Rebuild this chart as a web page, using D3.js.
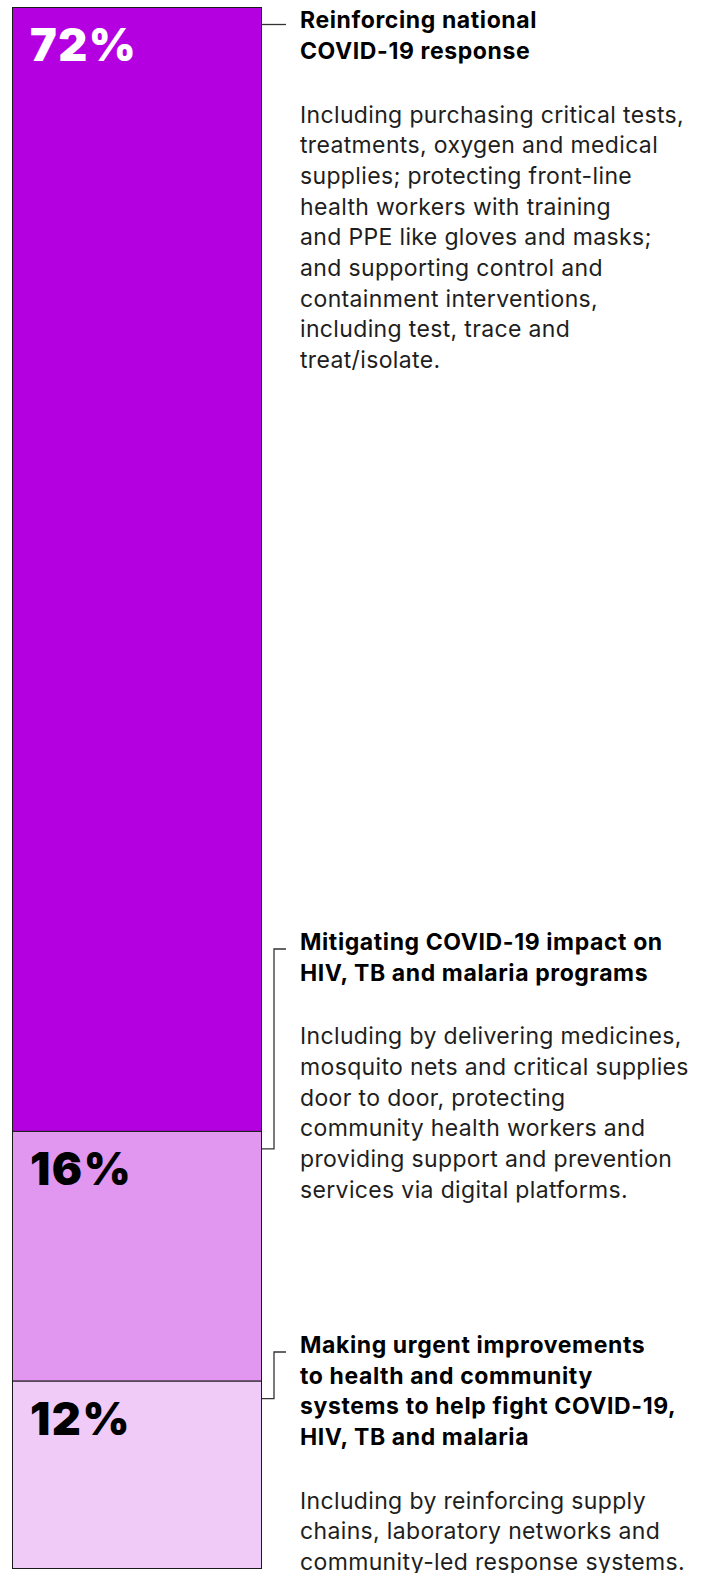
<!DOCTYPE html>
<html>
<head>
<meta charset="utf-8">
<script src="https://cdn.jsdelivr.net/npm/d3@7"></script>
<style>
  html, body { margin: 0; padding: 0; background: #fff; }
  svg { display: block; }
</style>
</head>
<body>
<div id="chart"></div>
<script>
// ---- data ----
const categories = [
  "Reinforcing national COVID-19 response",
  "Mitigating COVID-19 impact on HIV, TB and malaria programs",
  "Making urgent improvements to health and community systems to help fight COVID-19, HIV, TB and malaria"
];
const shares = [72, 16, 12];
const shareLabels = ["72%", "16%", "12%"];
const headingLines = [
  ["Reinforcing national", "COVID-19 response"],
  ["Mitigating COVID-19 impact on", "HIV, TB and malaria programs"],
  ["Making urgent improvements", "to health and community", "systems to help fight COVID-19,", "HIV, TB and malaria"]
];
const bodyLines = [
  ["Including purchasing critical tests,", "treatments, oxygen and medical", "supplies; protecting front-line",
   "health workers with training", "and PPE like gloves and masks;", "and supporting control and",
   "containment interventions,", "including test, trace and", "treat/isolate."],
  ["Including by delivering medicines,", "mosquito nets and critical supplies", "door to door, protecting",
   "community health workers and", "providing support and prevention", "services via digital platforms."],
  ["Including by reinforcing supply", "chains, laboratory networks and", "community-led response systems."]
];

// ---- layout (not data) ----
const W = 706, H = 1573;
const barX0 = 12, barX1 = 261;
const barTop = 7, barBottom = 1568;
const headingBaseline = [28.3, 950, 1353];
const connectorY = [24.5, 949, 1352];
const lineH = 30.7, paraGap = 63.5;
const textX = 300;

const colour = d3.scaleOrdinal().domain(categories).range(["#b400e1", "#e196f0", "#f0cbf8"]);
const labelColour = d3.scaleOrdinal().domain(categories).range(["#ffffff", "#000000", "#000000"]);

const svg = d3.select("#chart").append("svg").attr("width", W).attr("height", H);

const y = d3.scaleLinear().domain([0, d3.sum(shares)]).range([barTop, barBottom]);
const x = d3.scaleLinear().domain([0, 1]).range([barX0, barX1]);

const cum = d3.cumsum(shares);
const segs = categories.map((c, i) => ({
  cat: c, value: shares[i], label: shareLabels[i],
  start: i === 0 ? 0 : cum[i - 1], end: cum[i], i
}));

// bars
svg.append("g").selectAll("rect").data(segs).join("rect")
  .attr("x", x(0) + 0.5)
  .attr("y", d => y(d.start) + 0.5)
  .attr("width", x(1) - x(0))
  .attr("height", d => y(d.end) - y(d.start))
  .attr("fill", d => colour(d.cat))
  .attr("stroke", "#1a1a1a")
  .attr("stroke-width", 1);

// percentage labels
svg.append("g").selectAll("text").data(segs).join("text")
  .attr("x", x(0) + 18)
  .attr("y", d => y(d.start) + 54)
  .attr("fill", d => labelColour(d.cat))
  .attr("font-family", "Inter, sans-serif")
  .attr("font-weight", 900)
  .attr("font-size", 45)
  .attr("letter-spacing", 1.5)
  .text(d => d.label);

// connectors
svg.append("g").selectAll("path").data(segs).join("path")
  .attr("d", d => {
    const y0 = d.i === 0 ? connectorY[0] : y(d.start) + 18;
    const y1 = connectorY[d.i];
    return `M${x(1)+0.5},${y0}H274V${y1}H286`;
  })
  .attr("fill", "none")
  .attr("stroke", "#333")
  .attr("stroke-width", 1.3);

// headings & body
const blocks = svg.append("g").selectAll("g").data(segs).join("g");
blocks.each(function(d) {
  const g = d3.select(this);
  const hl = headingLines[d.i];
  const b0 = headingBaseline[d.i];
  g.selectAll("text.h").data(hl).join("text").attr("class", "h")
    .attr("x", textX)
    .attr("y", (t, k) => b0 + k * lineH)
    .attr("font-family", "Inter, sans-serif")
    .attr("font-weight", 700)
    .attr("font-size", 23)
    .attr("letter-spacing", 0.6)
    .attr("fill", "#000")
    .text(t => t);
  const bb = b0 + (hl.length - 1) * lineH + paraGap;
  g.selectAll("text.b").data(bodyLines[d.i]).join("text").attr("class", "b")
    .attr("x", textX)
    .attr("y", (t, k) => bb + k * lineH)
    .attr("font-family", "Inter, sans-serif")
    .attr("font-weight", 400)
    .attr("font-size", 23)
    .attr("letter-spacing", 0.35)
    .attr("fill", "#1e1e1e")
    .text(t => t);
});
</script>
</body>
</html>
